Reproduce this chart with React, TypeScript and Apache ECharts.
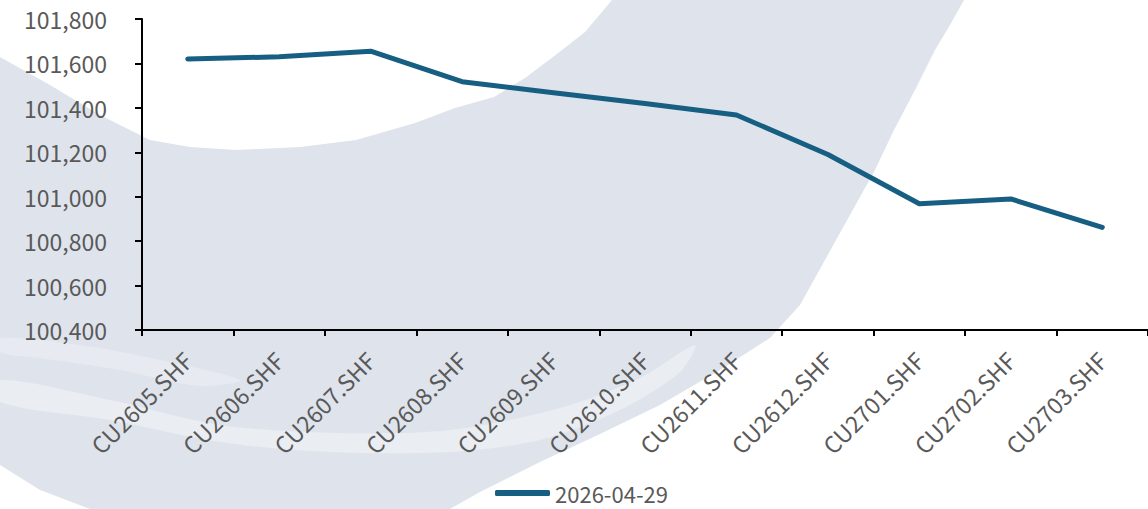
import React, { useEffect, useRef } from "react";
import * as echarts from "echarts";

const categories = [
  "CU2605.SHF", "CU2606.SHF", "CU2607.SHF", "CU2608.SHF", "CU2609.SHF", "CU2610.SHF",
  "CU2611.SHF", "CU2612.SHF", "CU2701.SHF", "CU2702.SHF", "CU2703.SHF",
];
const seriesName = "2026-04-29";
const values = [101620, 101630, 101655, 101518, 101468, 101420, 101368, 101190, 100968, 100990, 100862];
const yMin = 100400;
const yMax = 101800;
const yStep = 200;

const wash = "#dfe4ec";

export default function App() {
  const ref = useRef<HTMLDivElement>(null);
  useEffect(() => {
    if (!ref.current) return;
    const chart = echarts.init(ref.current, null, { renderer: "svg" });
    const font = "'Noto Sans CJK SC', 'Noto Sans', sans-serif";
    chart.setOption({
      animation: false,
      backgroundColor: "#ffffff",
      graphic: [
        {
          type: "polygon",
          z: -10,
          silent: true,
          shape: {
            points: [
              [612, 0], [964, 0], [950, 25], [935, 50], [915, 90], [894, 130], [875, 170],
              [850, 215], [825, 260], [800, 305], [770, 338], [720, 370], [660, 405],
              [600, 434], [540, 462], [480, 492], [450, 509], [90, 509], [40, 490], [0, 465],
              [0, 57], [50, 85], [100, 115], [150, 140], [190, 147], [237, 150], [300, 147],
              [356, 140], [415, 123], [455, 108], [494, 97], [525, 78], [553, 57], [585, 32],
            ],
          },
          style: { fill: wash },
        },
        {
          type: "polygon",
          z: -9,
          silent: true,
          shape: {
            points: [
              [0, 380], [110, 400], [220, 425], [340, 433], [450, 430], [560, 408],
              [640, 378], [695, 345], [680, 372], [620, 410], [540, 440], [450, 452],
              [330, 452], [220, 442], [110, 420], [0, 402],
            ],
            smooth: 0.3,
          },
          style: { fill: "rgba(255,255,255,0.35)" },
        },
        {
          type: "polygon",
          z: -9,
          silent: true,
          shape: {
            points: [
              [0, 338], [80, 345], [160, 360], [240, 380], [200, 386], [120, 370], [40, 358], [0, 352],
            ],
            smooth: 0.3,
          },
          style: { fill: "rgba(255,255,255,0.25)" },
        },
      ],
      grid: { left: 142, right: -2, top: 19, bottom: 179, containLabel: false },
      legend: {
        top: 482,
        left: 495,
        padding: 0,
        icon: "roundRect",
        itemWidth: 55,
        itemHeight: 6,
        textStyle: { color: "#595959", fontSize: 22, lineHeight: 22, fontFamily: font },
        data: [seriesName],
      },
      xAxis: {
        type: "category",
        data: categories,
        boundaryGap: true,
        axisLine: { lineStyle: { color: "#000000", width: 2 } },
        axisTick: { show: true, length: 6, lineStyle: { color: "#000000", width: 2 } },
        axisLabel: {
          interval: 0,
          rotate: 45,
          margin: 26,
          color: "#595959",
          fontSize: 23,
          fontFamily: font,
        },
        splitLine: { show: false },
      },
      yAxis: {
        type: "value",
        min: yMin,
        max: yMax,
        interval: yStep,
        axisLine: { show: true, lineStyle: { color: "#000000", width: 2 } },
        axisTick: { show: true, length: 7, lineStyle: { color: "#000000", width: 2 } },
        axisLabel: {
          margin: 35,
          color: "#595959",
          fontSize: 23,
          fontFamily: font,
          formatter: (v: number) => v.toLocaleString("en-US"),
        },
        splitLine: { show: false },
      },
      series: [
        {
          name: seriesName,
          type: "line",
          data: values,
          symbol: "none",
          showSymbol: false,
          itemStyle: { color: "#175f82" },
          lineStyle: { color: "#175f82", width: 5, cap: "round", join: "round" },
        },
      ],
    });
    return () => chart.dispose();
  }, []);
  return (
    <div
      ref={ref}
      style={{ position: "absolute", left: 0, top: 0, width: 1148, height: 509 }}
    />
  );
}
